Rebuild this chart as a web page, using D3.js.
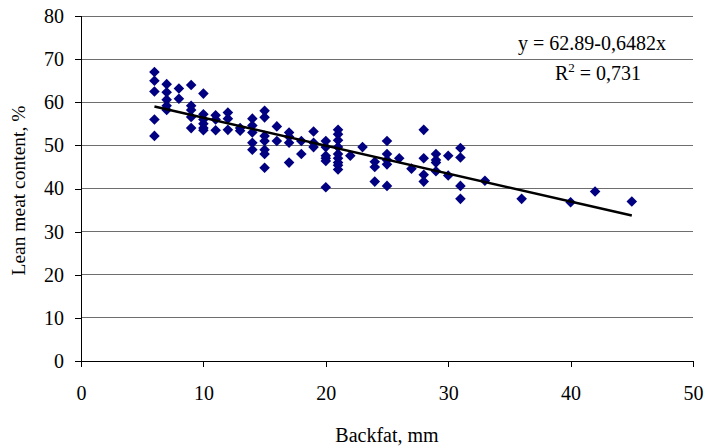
<!DOCTYPE html>
<html>
<head>
<meta charset="utf-8">
<style>
    body { margin: 0; background: #fff; }
    svg { display: block; font-family: 'Liberation Serif', 'Times New Roman', serif; }
</style>
</head>
<body>
<svg width="706" height="448"></svg>
<script src="https://cdnjs.cloudflare.com/ajax/libs/d3/7.8.5/d3.min.js"></script>
<script>
// backfat (mm) and lean meat content (%)
let backfat = [
    6, 6, 6, 6, 6,
    7, 7, 7, 7, 7,
    8, 8,
    9, 9, 9, 9, 9,
    10, 10, 10, 10, 10, 10,
    11, 11, 11,
    12, 12, 12,
    13, 13,
    14, 14, 14, 14, 14,
    15, 15, 15, 15, 15, 15, 15,
    16, 16,
    17, 17, 17, 17,
    18, 18,
    19, 19, 19,
    20, 20, 20, 20, 20, 20,
    21, 21, 21, 21, 21, 21, 21, 21, 21,
    22, 23,
    24, 24, 24,
    25, 25, 25, 25, 25,
    26, 27,
    28, 28, 28, 28,
    29, 29, 29, 29,
    30, 30,
    31, 31, 31, 31,
    33, 36, 40, 42, 45
]
let leanMeat = [
    67, 65, 62.5, 56, 52.2,
    64.2, 62.3, 60.6, 59.2, 58.2,
    63.2, 60.8,
    64, 59.2, 58.2, 56.6, 54,
    62, 57.2, 56, 55, 54, 53.5,
    57, 56, 53.5,
    57.6, 56.2, 53.6,
    54, 53.4,
    56.2, 54.6, 53, 50.6, 49,
    58, 56.5, 52.2, 51, 49, 48, 44.8,
    54.4, 51,
    53, 52, 50.6, 46,
    51, 48,
    53.2, 50.6, 49.6,
    51, 49.6, 47.6, 47, 46.4, 40.3,
    53.6, 52.6, 51.2, 49.6, 48, 47, 46, 45.4, 44.4,
    47.6, 49.6,
    46.2, 45, 41.6,
    51, 48, 46.6, 45.6, 40.6,
    47, 44.6,
    53.6, 47, 43.2, 41.6,
    48, 46.6, 46, 44,
    47.6, 43,
    49.4, 47.2, 40.6, 37.6,
    41.8, 37.6, 36.8, 39.3, 37
]
let xTicks = [0, 10, 20, 30, 40, 50]
let yTicks = [0, 10, 20, 30, 40, 50, 60, 70, 80]
let intercept = 62.89
let slope = -0.6482

let svg = d3.select("svg")
let margin = { top: 16, right: 13, bottom: 87, left: 81 }
let width = 706 - margin.left - margin.right
let height = 448 - margin.top - margin.bottom

let g = svg.append("g").attr("transform", `translate(${margin.left},${margin.top})`)

let x = d3.scaleLinear().domain([0, 50]).range([0, width])
let y = d3.scaleLinear().domain([0, 80]).range([height, 0])

// horizontal gridlines
g.append("g")
    .selectAll("line")
    .data(yTicks.filter(d => d > 0))
    .join("line")
    .attr("x1", 0)
    .attr("x2", width)
    .attr("y1", d => y(d))
    .attr("y2", d => y(d))
    .attr("stroke", "#6e6e6e")
    .attr("stroke-width", 1)
    .attr("shape-rendering", "crispEdges")

// axes
let xAxis = g.append("g")
    .attr("transform", `translate(0,${height})`)
    .call(d3.axisBottom(x).tickValues(xTicks).tickSize(6).tickPadding(19))
let yAxis = g.append("g")
    .call(d3.axisLeft(y).tickValues(yTicks).tickSize(6).tickPadding(11))

;[xAxis, yAxis].forEach(a => {
    a.select(".domain").attr("stroke", "#000").attr("shape-rendering", "crispEdges")
    a.selectAll(".tick line").attr("stroke", "#000").attr("shape-rendering", "crispEdges")
    a.selectAll("text")
        .attr("font-family", "'Liberation Serif', serif")
        .attr("font-size", 20)
        .attr("fill", "#000")
})
xAxis.select(".domain").attr("d", `M0,0H${width}`)
yAxis.select(".domain").attr("d", `M0,${height}V0`)

// points
let diamond = d3.symbol().type(d3.symbolSquare).size(56)
g.append("g")
    .selectAll("path")
    .data(backfat.map((b, i) => ({ b: b, l: leanMeat[i] })))
    .join("path")
    .attr("d", diamond)
    .attr("transform", d => `translate(${x(d.b)},${y(d.l)}) rotate(45)`)
    .attr("fill", "#000080")

// trend line
let fitX = [d3.min(backfat), d3.max(backfat)]
g.append("line")
    .attr("x1", x(fitX[0]))
    .attr("y1", y(intercept + slope * fitX[0]))
    .attr("x2", x(fitX[1]))
    .attr("y2", y(intercept + slope * fitX[1]))
    .attr("stroke", "#000")
    .attr("stroke-width", 2.5)

// equation text
svg.append("text")
    .attr("x", 592)
    .attr("y", 50)
    .attr("text-anchor", "middle")
    .attr("font-size", 20)
    .text("y = 62.89-0,6482x")

let r2 = svg.append("text")
    .attr("x", 598)
    .attr("y", 80)
    .attr("text-anchor", "middle")
    .attr("font-size", 20)
r2.append("tspan").text("R")
r2.append("tspan").attr("dy", -8).attr("font-size", 13).text("2")
r2.append("tspan").attr("dy", 8).text(" = 0,731")

// axis titles
svg.append("text")
    .attr("x", margin.left + width / 2)
    .attr("y", 442)
    .attr("text-anchor", "middle")
    .attr("font-size", 20)
    .text("Backfat, mm")

svg.append("text")
    .attr("transform", `translate(25,${margin.top + height / 2 + 2}) rotate(-90)`)
    .attr("text-anchor", "middle")
    .attr("font-size", 19.5)
    .text("Lean meat content, %")
</script>
</body>
</html>
